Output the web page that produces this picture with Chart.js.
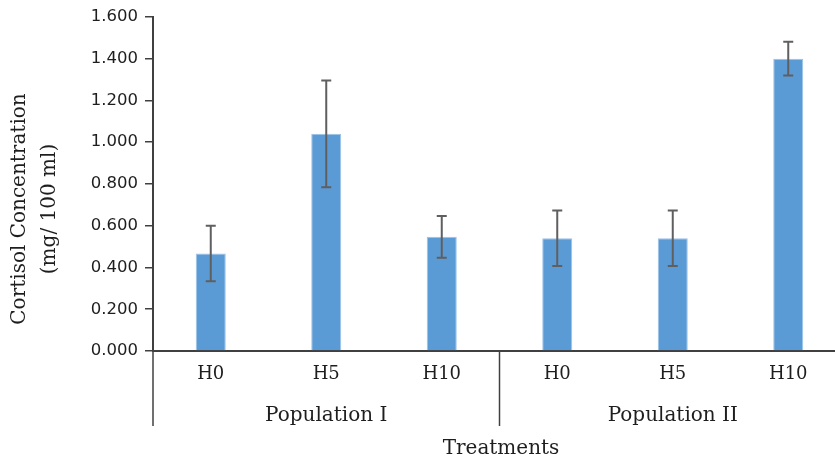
<!DOCTYPE html>
<html>
<head>
<meta charset="utf-8">
<script src="https://cdn.jsdelivr.net/npm/chart.js@4/dist/chart.umd.min.js"></script>
<style>
  html, body { margin: 0; padding: 0; background: #fff; overflow: hidden; }
  #wrap { position: relative; width: 846px; height: 459px; }
</style>
</head>
<body>
<div id="wrap"><canvas id="c"></canvas></div>
<script>
// Treatments, grouped by population
const treatments = ['H0', 'H5', 'H10', 'H0', 'H5', 'H10'];
const groups = ['Population I', 'Population II'];
const groupSize = 3;

// Mean cortisol (mg/100 ml) and error half-widths
const cortisol = [0.467, 1.040, 0.547, 0.540, 0.540, 1.400];
const cortisolErr = [0.133, 0.256, 0.100, 0.133, 0.133, 0.081];

// Y-axis tick settings
const yMin = 0;
const yMax = 1.6;
const yStep = 0.2;

const SERIF = "'DejaVu Serif', 'Liberation Serif', serif";
const SANS = "'DejaVu Sans', Verdana, sans-serif";
const TEXT = '#1e1e1e';
const AXIS = '#404040';

// Error bars with caps
const errorBars = {
  id: 'errorBars',
  afterDatasetsDraw(chart) {
    const { ctx, scales: { y } } = chart;
    const meta = chart.getDatasetMeta(0);
    ctx.save();
    ctx.strokeStyle = '#5f5f5f';
    ctx.lineWidth = 2;
    meta.data.forEach((bar, i) => {
      const x = bar.x;
      const top = y.getPixelForValue(cortisol[i] + cortisolErr[i]);
      const bot = y.getPixelForValue(cortisol[i] - cortisolErr[i]);
      const cap = 5;
      ctx.beginPath();
      ctx.moveTo(x, top); ctx.lineTo(x, bot);
      ctx.moveTo(x - cap, top); ctx.lineTo(x + cap, top);
      ctx.moveTo(x - cap, bot); ctx.lineTo(x + cap, bot);
      ctx.stroke();
    });
    ctx.restore();
  }
};

// Group separators, group names and axis titles
const groupAxis = {
  id: 'groupAxis',
  afterDraw(chart) {
    const { ctx, chartArea, scales: { x } } = chart;
    const n = treatments.length;
    const step = n > 1 ? x.getPixelForTick(1) - x.getPixelForTick(0) : 0;
    const base = chartArea.bottom;
    ctx.save();
    ctx.strokeStyle = AXIS;
    ctx.lineWidth = 1.5;
    for (let g = 0; g <= groups.length; g++) {
      const idx = g * groupSize;
      const px = idx < n ? x.getPixelForTick(idx) - step / 2 : x.getPixelForTick(n - 1) + step / 2;
      ctx.beginPath();
      ctx.moveTo(px, base);
      ctx.lineTo(px, base + 75);
      ctx.stroke();
    }
    ctx.fillStyle = TEXT;
    ctx.textAlign = 'center';
    ctx.textBaseline = 'middle';
    ctx.font = '20px ' + SERIF;
    groups.forEach((name, g) => {
      const a = x.getPixelForTick(g * groupSize);
      const b = x.getPixelForTick(g * groupSize + groupSize - 1);
      ctx.fillText(name, (a + b) / 2, base + 65);
    });
    ctx.fillText('Treatments', 501, base + 98);

    // Y-axis title, two lines
    ctx.translate(35, 209);
    ctx.rotate(-Math.PI / 2);
    ctx.fillText('Cortisol Concentration', 0, -15);
    ctx.fillText('(mg/ 100 ml)', 0, 15);
    ctx.restore();
  }
};

new Chart(document.getElementById('c'), {
  type: 'bar',
  data: {
    labels: treatments,
    datasets: [{
      data: cortisol,
      backgroundColor: '#5b9bd5',
      borderColor: '#9cc2e8',
      borderWidth: 1,
      barPercentage: 0.52,
      categoryPercentage: 0.5
    }]
  },
  options: {
    responsive: true,
    maintainAspectRatio: false,
    animation: false,
    events: [],
    layout: { padding: { top: 16, left: 0, right: 0, bottom: 0 } },
    plugins: { legend: { display: false }, tooltip: { enabled: false }, title: { display: false } },
    scales: {
      x: {
        offset: true,
        grid: { display: false, drawTicks: false },
        border: { display: true, color: AXIS, width: 2 },
        ticks: { color: TEXT, font: { family: SERIF, size: 18 }, padding: 13, maxRotation: 0, autoSkip: false },
        afterFit(scale) { scale.height = 108; }
      },
      y: {
        min: yMin,
        max: yMax,
        grid: { drawOnChartArea: false, drawTicks: true, tickLength: 8, color: AXIS, lineWidth: 1.5 },
        border: { display: true, color: AXIS, width: 2 },
        ticks: {
          stepSize: yStep,
          color: TEXT,
          font: { family: SANS, size: 16.5 },
          padding: 7,
          callback: v => Number(v).toFixed(3)
        },
        afterFit(scale) { scale.width = 153; }
      }
    }
  },
  plugins: [errorBars, groupAxis]
});
</script>
</body>
</html>
